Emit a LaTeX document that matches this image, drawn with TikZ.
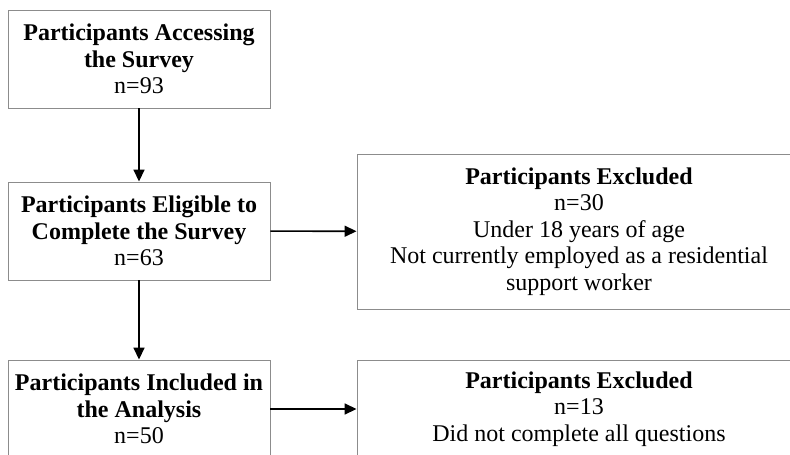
\documentclass[tikz,border=0pt]{standalone}
\usepackage{fontspec}
\setmainfont{Liberation Serif}
\usetikzlibrary{arrows.meta}
\definecolor{boxgray}{gray}{0.55}

\begin{document}
\begin{tikzpicture}[x=1pt,y=-1pt,
    flowbox/.style={draw=boxgray,line width=0.9pt,minimum width=262pt,
      minimum height=98pt,inner sep=0pt,align=center,
      font=\fontsize{24}{26.5}\selectfont},
    widebox/.style={flowbox,minimum width=444pt},
    flowarrow/.style={-{Triangle[length=12pt,width=11pt]},line width=1.6pt}]
  \clip (0,0) rectangle (790,455);
  \node[flowbox] (access)   at (139,59)  {\textbf{Participants Accessing}\\\textbf{the Survey}\\n=93};
  \node[flowbox] (eligible) at (139,231) {\textbf{Participants Eligible to}\\\textbf{Complete the Survey}\\n=63};
  \node[flowbox] (included) at (139,409) {\textbf{Participants Included in}\\\textbf{the Analysis}\\n=50};
  \node[widebox,minimum height=155pt] (excl1) at (579,231.5)
    {\textbf{Participants Excluded}\\n=30\\Under 18 years of age\\Not currently employed as a residential\\support worker};
  \node[widebox] (excl2) at (579,409)
    {\textbf{Participants Excluded}\\n=13\\Did not complete all questions};
  \begin{scope}[flowarrow]
    \draw (access)   -- (eligible);
    \draw (eligible) -- (included);
    \draw (eligible) -- (excl1);
    \draw (included) -- (excl2);
  \end{scope}
\end{tikzpicture}
\end{document}
